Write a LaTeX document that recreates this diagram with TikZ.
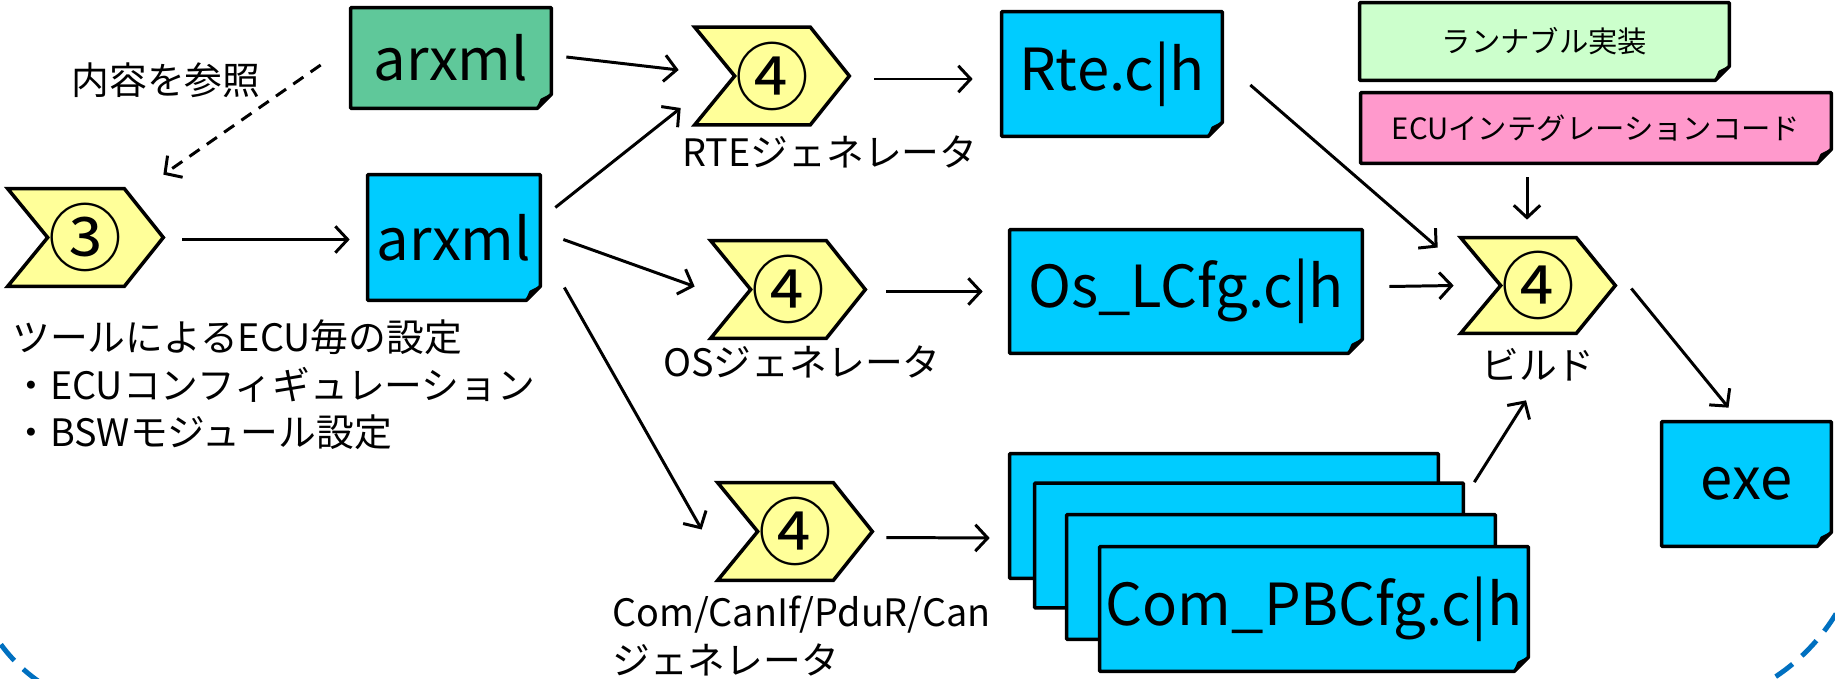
\documentclass[tikz,border=0pt]{standalone}
\usepackage{fontspec}
\setmainfont{Noto Sans CJK JP}
\usepackage{tikz}
\usetikzlibrary{calc,arrows.meta,positioning}
\pgfdeclarelayer{background}
\pgfsetlayers{background,main}
\definecolor{chevfill}{HTML}{FFFF99}
\definecolor{filecyan}{HTML}{00CCFF}
\definecolor{arxgreen}{HTML}{5FC89A}
\definecolor{runnablegreen}{HTML}{CCFFCC}
\definecolor{integpink}{HTML}{FF99CC}
\definecolor{edgeblue}{HTML}{0070C0}
\tikzset{
  file/.style={inner sep=0pt, font=\fontsize{33}{38}\selectfont},
  tag/.style={inner sep=0pt, font=\fontsize{16.7}{20}\selectfont},
  chev/.style={inner sep=0pt, minimum width=3.08cm, minimum height=1.94cm, font=\fontsize{42}{46}\selectfont},
  note/.style={inner sep=0pt, font=\fontsize{21.5}{27}\selectfont},
  flow/.style={line width=1.7pt, -{Straight Barb[length=7pt,width=15pt,line width=1.7pt]}}
}
\newcommand{\docpaper}[2]{%
  \filldraw[fill=#2, line width=2pt, line join=round] (#1.north west) -- (#1.north east) -- ($(#1.south east)+(0,-14)$) -- ($(#1.south east)+(-14,0)$) -- (#1.south west) -- cycle;
  \filldraw[line width=1pt, line join=round] ($(#1.south east)+(-14,0)$) -- ($(#1.south east)+(-10,-9)$) -- ($(#1.south east)+(0,-14)$) -- cycle;}
\newcommand{\chevpath}[1]{%
  \filldraw[fill=chevfill, line width=2pt] (#1.north west) -- ($(#1.north east)+(-39,0)$) -- (#1.east) -- ($(#1.south east)+(-39,0)$) -- (#1.south west) -- ($(#1.west)+(40,0)$) -- cycle;}

\begin{document}
\begin{tikzpicture}[x=0.02cm, y=-0.02cm]
\clip (0,0) rectangle (1835,679);
\draw[edgeblue, line width=2.8pt, dash pattern=on 12pt off 7pt] (-30,-50) -- (-30,550) arc[start angle=180, end angle=270, radius=3.2cm] -- (1665,710) arc[start angle=270, end angle=360, radius=4cm] -- (1865,-50);

\node[file, minimum width=4cm, minimum height=2cm] (src) at (451,58) {arxml};
\node[file, minimum width=3.44cm, minimum height=2.5cm] (cfg) at (454,237.5) {arxml};
\node[file, minimum width=4.4cm, minimum height=2.48cm] (rteout) at (1112,74) {Rte.c|h};
\node[file, minimum width=7.04cm, minimum height=2.46cm] (osout) at (1186,291.5) {Os\_LCfg.c|h};
\node[file, minimum width=3.38cm, minimum height=2.48cm] (exe) at (1746.5,484) {exe};
\node[file, minimum width=8.56cm, minimum height=2.48cm] (com1) at (1224,516) {};
\node[file, minimum width=8.56cm, minimum height=2.48cm] (com2) at (1249,545.5) {};
\node[file, minimum width=8.56cm, minimum height=2.48cm] (com3) at (1281,577) {};
\node[file, minimum width=8.56cm, minimum height=2.48cm] (com4) at (1314,609) {Com\_PBCfg.c|h};
\node[tag, minimum width=7.38cm, minimum height=1.54cm] (runimpl) at (1544.5,41.5) {ランナブル実装};
\node[tag, minimum width=9.4cm, minimum height=1.4cm] (ecuinteg) at (1596,128) {ECUインテグレーションコード};

\node[chev, minimum width=3.1cm] (cfgtool) at (85.5,237.5) {③};
\node[chev] (rtegen) at (772,76) {④};
\node[chev] (osgen) at (788,289.5) {④};
\node[chev] (comgen) at (795,531.5) {④};
\node[chev, minimum height=1.9cm] (build) at (1538,285.5) {④};

\node[note] (refnote) at (166,80) {内容を参照};
\node[note] (rtename) at (830,152) {RTEジェネレータ};
\node[note] (osname) at (802,362) {OSジェネレータ};
\node[note, align=left, anchor=west] (comname) at (612,636) {Com/CanIf/PduR/Can\\ジェネレータ};
\node[note] (buildname) at (1538,365) {ビルド};
\node[note, align=left, anchor=west] (toolnote) at (12,385) {ツールによるECU毎の設定\\・ECUコンフィギュレーション\\・BSWモジュール設定};

\begin{pgfonlayer}{background}
\fill[white] (0,0) rectangle (1835,679);
\foreach \n/\c in {src/arxgreen, cfg/filecyan, rteout/filecyan, osout/filecyan, exe/filecyan, com1/filecyan, com2/filecyan, com3/filecyan, com4/filecyan, runimpl/runnablegreen, ecuinteg/integpink} {\docpaper{\n}{\c}}
\foreach \n in {cfgtool, rtegen, osgen, comgen, build} {\chevpath{\n}}
\end{pgfonlayer}

\draw[flow] ($(src.east)+(15,-1)$) -- ($(rtegen.west)+(-16,-6)$);
\draw[flow] ($(cfg.east)+(15,-30)$) -- ($(rtegen.west)+(-14,32)$);
\draw[flow] ($(cfg.east)+(23,2)$) -- ($(osgen.west)+(-16,-3)$);
\draw[flow] ($(cfg.east)+(24,50)$) -- ($(comgen.west)+(-16,-2)$);
\draw[flow] ($(cfgtool.east)+(19,2)$) -- ($(cfg.west)+(-18,2)$);
\draw[flow, dash pattern=on 7pt off 5pt] ($(src.west)+(-30,7)$) -- ($(cfgtool.north east)+(0,-14)$);
\draw[flow] ($(rtegen.east)+(25,3)$) -- ($(rteout.west)+(-29,5)$);
\draw[flow] ($(osgen.east)+(21,2)$) -- ($(osout.west)+(-27,0)$);
\draw[flow] ($(comgen.east)+(14,6)$) -- ($(com1.west)+(-20,22)$);
\draw[flow] ($(rteout.east)+(28,11)$) -- ($(build.west)+(-23,-38)$);
\draw[flow] ($(osout.east)+(27,-5)$) -- ($(build.west)+(-7,0)$);
\draw[flow] ($(ecuinteg.south)+(-69,14)$) -- ($(build.north)+(-11,-18)$);
\draw[flow] ($(com2.north east)+(11,-1)$) -- ($(build.south)+(-12,67)$);
\draw[flow] ($(build.east)+(16,3)$) -- ($(exe.north)+(-18,-14)$);
\end{tikzpicture}
\end{document}
